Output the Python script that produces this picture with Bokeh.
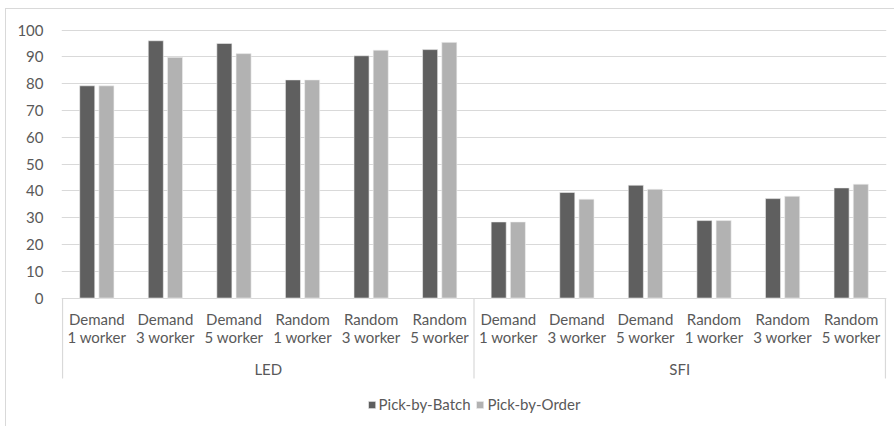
from bokeh.plotting import figure
from bokeh.models import FactorRange, Range1d, FixedTicker, Legend, LegendItem, ColumnDataSource
from bokeh.transform import dodge
from bokeh.core.properties import value
from bokeh.embed import file_html
from bokeh.resources import INLINE

# ---- data ----
groups = ["LED", "SFI"]
strategies = ["Demand", "Demand", "Demand", "Random", "Random", "Random"]
workers = ["1 worker", "3 worker", "5 worker", "1 worker", "3 worker", "5 worker"]
series_names = ["Pick-by-Batch", "Pick-by-Order"]
pick_by_batch = [79.2, 96.0, 95.0, 81.4, 90.4, 92.7, 28.4, 39.4, 42.1, 28.9, 37.1, 41.1]
pick_by_order = [79.2, 89.8, 91.2, 81.4, 92.5, 95.4, 28.4, 36.9, 40.6, 28.9, 38.0, 42.5]
y_ticks = [0, 10, 20, 30, 40, 50, 60, 70, 80, 90, 100]

# ---- build ----
factors = [(g, s + " " + w) for g in groups for s, w in zip(strategies, workers)]
line1 = [s for g in groups for s in strategies]
line2 = [w for g in groups for w in workers]

src = ColumnDataSource(dict(x=factors, batch=pick_by_batch, order=pick_by_order,
                            l1=line1, l2=line2))

TEXT = "#595959"
FONT = "Lato"
DARK = "#5f5f5f"
LIGHT = "#b2b2b2"
GRID = "#d9d9d9"

p = figure(width=889, height=418,
           x_range=FactorRange(factors=factors, range_padding=0.0025,
                               factor_padding=0, group_padding=0, subgroup_padding=0),
           y_range=Range1d(-48.3, 100.2),
           x_axis_location=None,
           output_backend="svg", toolbar_location=None,
           min_border_left=55, min_border_right=9, min_border_top=20, min_border_bottom=0)
p.styles = {"margin-left": "5px", "margin-top": "8px",
            "border-left": "1px solid #d9d9d9", "border-top": "1px solid #d9d9d9"}
p.outline_line_color = None
p.background_fill_color = "white"
p.border_fill_color = "white"

p.yaxis.ticker = FixedTicker(ticks=y_ticks)
p.yaxis.axis_line_color = None
p.yaxis.major_tick_line_color = None
p.yaxis.minor_tick_line_color = None
p.yaxis.major_tick_out = 0
p.yaxis.major_tick_in = 0
p.yaxis.major_label_standoff = 18
p.yaxis.major_label_text_font = FONT
p.yaxis.major_label_text_font_size = "15px"
p.yaxis.major_label_text_color = TEXT
p.xgrid.visible = False
p.ygrid.grid_line_color = GRID
p.ygrid.grid_line_width = 1.2

r1 = p.vbar(x=dodge("x", -0.14, range=p.x_range), top="batch", width=0.22, source=src,
            fill_color=DARK, line_color="#f2f2f2", line_width=0.6)
r2 = p.vbar(x=dodge("x", 0.14, range=p.x_range), top="order", width=0.22, source=src,
            fill_color=LIGHT, line_color="#f2f2f2", line_width=0.6)

# category labels (two lines) and group labels
p.text(x="x", y=-8.0, text="l1", source=src, text_align="center", text_baseline="middle",
       text_font=value(FONT), text_font_size="15px", text_color=TEXT)
p.text(x="x", y=-14.7, text="l2", source=src, text_align="center", text_baseline="middle",
       text_font=value(FONT), text_font_size="15px", text_color=TEXT)
p.text(x=groups, y=[-26.3] * len(groups), text=groups, text_align="center",
       text_baseline="middle", text_font=value(FONT), text_font_size="15px", text_color=TEXT)

# group separator lines
n = len(strategies)
bounds = [i * n for i in range(len(groups) + 1)]
p.segment(x0=bounds, y0=[0] * len(bounds), x1=bounds, y1=[-30.0] * len(bounds),
          line_color=GRID, line_width=1.2)

legend = Legend(items=[LegendItem(label=series_names[0], renderers=[r1]),
                       LegendItem(label=series_names[1], renderers=[r2])],
                location="bottom_center", orientation="horizontal")
legend.margin = 14
legend.padding = 0
legend.spacing = 5
legend.glyph_width = 9
legend.glyph_height = 9
legend.label_standoff = 3
legend.label_text_font = FONT
legend.label_text_font_size = "15px"
legend.label_text_color = TEXT
legend.border_line_color = None
legend.background_fill_alpha = 0
p.add_layout(legend, "center")

open("out.html", "w").write(file_html(p, INLINE))
